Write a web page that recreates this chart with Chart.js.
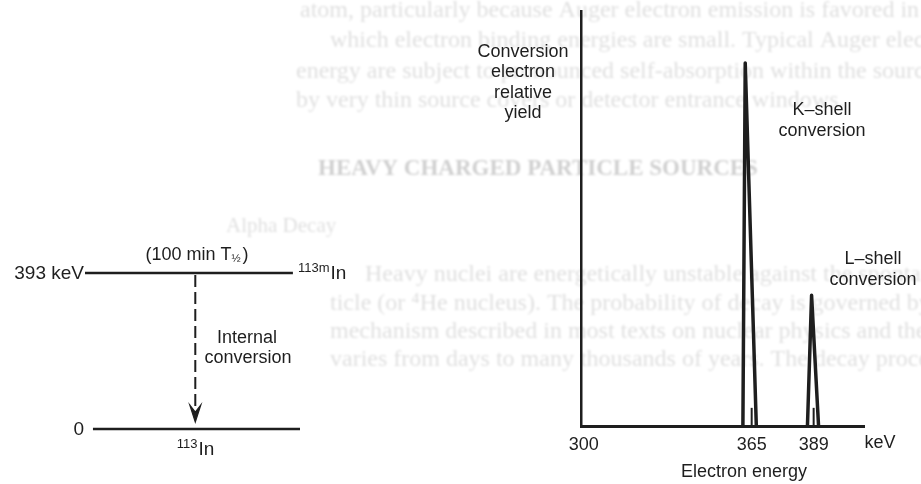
<!DOCTYPE html>
<html>
<head>
<meta charset="utf-8">
<script src="https://cdn.jsdelivr.net/npm/chart.js@4.4.1/dist/chart.umd.min.js"></script>
<style>
  html, body { margin: 0; padding: 0; background: #ffffff; }
  #wrap { position: relative; width: 921px; height: 484px; overflow: hidden; }
  #wrap canvas { position: absolute; left: 0; top: 0; }
</style>
</head>
<body>
<div id="wrap">
  <canvas id="levels" width="921" height="484"></canvas>
  <canvas id="spectrum" width="921" height="484"></canvas>
</div>
<script>
// ---- Conversion-electron spectrum of 113mIn (relative yield vs electron energy) ----
const kPeakEnergy = [361.6, 362.5, 366.8];   // keV, outline of the K-shell line
const kPeakYield  = [0, 100, 0];
const lPeakEnergy = [386.6, 388.2, 390.9];   // keV, outline of the L-shell line
const lPeakYield  = [0, 36, 0];
const lineEnergies  = [365, 389];            // K and L conversion energies, keV
const lineMarkYield = [5, 5];
const energyTicks   = [300, 365, 389];

// ---- Decay scheme ----
const levelEnergies     = [393, 0];          // keV
const levelEnergyLabels = ['393 keV', '0'];
const levelNuclides     = [['113m', 'In'], ['113', 'In']];
const halfLifeText      = '(100 min T';

const ink = '#1e1e1e';
const sans = '"Liberation Sans", Arial, Helvetica, sans-serif';
const serif = '"Liberation Serif", "Times New Roman", serif';

const toPoints = (xs, ys) => xs.map((x, i) => ({ x, y: ys[i] }));

// text set on the page behind the figure, seen faintly through the paper
const pageTextPlugin = {
  id: 'pageText',
  beforeDraw(chart) {
    const ctx = chart.ctx;
    ctx.save();
    ctx.filter = 'blur(0.8px)';
    ctx.textBaseline = 'middle';
    ctx.textAlign = 'left';
    ctx.fillStyle = 'rgba(0,0,0,0.13)';
    ctx.font = '24px ' + serif;
    const body = [
      [300, 11, 'atom, particularly because Auger electron emission is favored in'],
      [330, 41, 'which electron binding energies are small. Typical Auger electron'],
      [296, 72, 'energy are subject to pronounced self-absorption within the source'],
      [296, 101, 'by very thin source covers or detector entrance windows.'],
      [365, 275, 'Heavy nuclei are energetically unstable against the spontaneous'],
      [330, 304, 'ticle (or \u2074He nucleus). The probability of decay is governed by'],
      [330, 332, 'mechanism described in most texts on nuclear physics and the'],
      [330, 360, 'varies from days to many thousands of years. The decay process']
    ];
    body.forEach(([x, y, t]) => ctx.fillText(t, x, y));
    ctx.font = '21px ' + serif;
    ctx.fillText('Alpha Decay', 226, 226);
    ctx.fillStyle = 'rgba(0,0,0,0.19)';
    ctx.font = 'bold 23px ' + serif;
    ctx.fillText('HEAVY CHARGED PARTICLE SOURCES', 318, 169);
    ctx.restore();
  }
};

// labels of the decay scheme and the internal-conversion transition
const schemePlugin = {
  id: 'scheme',
  afterDatasetsDraw(chart) {
    const ctx = chart.ctx;
    const xs = chart.scales.x, ys = chart.scales.y;
    const yTop = ys.getPixelForValue(levelEnergies[0]);
    const yBot = ys.getPixelForValue(levelEnergies[1]);
    ctx.save();
    ctx.fillStyle = ink;
    ctx.strokeStyle = ink;
    ctx.textBaseline = 'middle';

    // energy labels at the left end of each level
    ctx.font = '19px ' + sans;
    ctx.textAlign = 'right';
    levelEnergies.forEach((e, i) => {
      ctx.fillText(levelEnergyLabels[i], 84, ys.getPixelForValue(e) + 1);
    });

    // nuclide labels: mass number raised in front of the symbol
    const drawNuclide = (mass, sym, x, y, align) => {
      ctx.font = '13px ' + sans;
      const wm = ctx.measureText(mass).width;
      ctx.font = '19px ' + sans;
      const ws = ctx.measureText(sym).width;
      const x0 = align === 'center' ? x - (wm + ws) / 2 : x;
      ctx.textAlign = 'left';
      ctx.font = '13px ' + sans;
      ctx.fillText(mass, x0, y - 6);
      ctx.font = '19px ' + sans;
      ctx.fillText(sym, x0 + wm + 1, y);
    };
    drawNuclide(levelNuclides[0][0], levelNuclides[0][1], 298, yTop + 1, 'left');
    drawNuclide(levelNuclides[1][0], levelNuclides[1][1], 195, yBot + 21, 'center');

    // half-life above the isomeric level
    ctx.font = '18px ' + sans;
    const w1 = ctx.measureText(halfLifeText).width;
    ctx.font = '11px ' + sans;
    const w2 = ctx.measureText('\u00bd').width;
    ctx.font = '18px ' + sans;
    const w3 = ctx.measureText(')').width;
    const hx = 197 - (w1 + w2 + w3 + 2) / 2;
    const hy = yTop - 18;
    ctx.textAlign = 'left';
    ctx.fillText(halfLifeText, hx, hy);
    ctx.font = '11px ' + sans;
    ctx.fillText('\u00bd', hx + w1, hy + 4);
    ctx.font = '18px ' + sans;
    ctx.fillText(')', hx + w1 + w2 + 2, hy);

    // dashed transition with arrowhead
    const ax = xs.getPixelForValue(0.513);
    const tipY = yBot - 7;
    ctx.lineWidth = 2;
    ctx.setLineDash([12, 5]);
    ctx.beginPath();
    ctx.moveTo(ax, yTop + 2);
    ctx.lineTo(ax, tipY - 10);
    ctx.stroke();
    ctx.setLineDash([]);
    ctx.beginPath();
    ctx.moveTo(ax, tipY);
    ctx.lineTo(ax - 5.5, tipY - 17);
    ctx.lineTo(ax, tipY - 10);
    ctx.lineTo(ax + 5.5, tipY - 17);
    ctx.closePath();
    ctx.fill();
    ctx.lineWidth = 1.2;
    ctx.stroke();

    ctx.font = '18px ' + sans;
    ctx.textAlign = 'center';
    ctx.fillText('Internal', 247, 338);
    ctx.fillText('conversion', 248, 358);
    ctx.restore();
  }
};

// where each level line starts and stops along the drawing
const levelSpan = [[0, 0.967], [0.037, 1]];

new Chart(document.getElementById('levels'), {
  type: 'scatter',
  data: {
    datasets: levelEnergies.map((e, i) => ({
      data: [{ x: levelSpan[i][0], y: e }, { x: levelSpan[i][1], y: e }],
      showLine: true,
      borderColor: ink,
      borderWidth: 2.5,
      pointRadius: 0,
      clip: false
    }))
  },
  options: {
    responsive: false,
    animation: false,
    devicePixelRatio: 1,
    layout: { padding: { left: 85, right: 621, top: 273, bottom: 55 } },
    plugins: { legend: { display: false }, tooltip: { enabled: false } },
    scales: {
      x: { type: 'linear', display: false, min: 0, max: 1 },
      y: { type: 'linear', display: false, min: 0, max: 393 }
    }
  },
  plugins: [pageTextPlugin, schemePlugin]
});

// axis captions and line annotations of the spectrum
const spectrumLabels = {
  id: 'spectrumLabels',
  afterDraw(chart) {
    const ctx = chart.ctx;
    ctx.save();
    ctx.fillStyle = ink;
    ctx.font = '18px ' + sans;
    ctx.textAlign = 'center';
    ctx.textBaseline = 'middle';
    ['Conversion', 'electron', 'relative', 'yield'].forEach((t, i) => ctx.fillText(t, 523, 52 + i * 20.5));
    ctx.fillText('K\u2013shell', 822, 110);
    ctx.fillText('conversion', 822, 131);
    ctx.fillText('L\u2013shell', 873, 259);
    ctx.fillText('conversion', 873, 280);
    ctx.fillText('keV', 880, 443);
    ctx.fillText('Electron energy', 744, 472);
    ctx.restore();
  }
};

const lineStyle = (width) => ({
  showLine: true,
  borderColor: ink,
  borderWidth: width,
  pointRadius: 0,
  borderJoinStyle: 'round',
  tension: 0,
  clip: false
});

new Chart(document.getElementById('spectrum'), {
  type: 'scatter',
  data: {
    datasets: [
      Object.assign({ data: toPoints(kPeakEnergy, kPeakYield) }, lineStyle(3.5)),
      Object.assign({ data: toPoints(lPeakEnergy, lPeakYield) }, lineStyle(3.5)),
      ...lineEnergies.map((e, i) => Object.assign({ data: [{ x: e, y: 0 }, { x: e, y: lineMarkYield[i] }] }, lineStyle(2)))
    ]
  },
  options: {
    responsive: false,
    animation: false,
    devicePixelRatio: 1,
    layout: { padding: { left: 581, right: 57, top: 11, bottom: 28 } },
    plugins: { legend: { display: false }, tooltip: { enabled: false } },
    scales: {
      x: {
        type: 'linear',
        min: 298.9,
        max: 408.5,
        afterFit(scale) { scale.height = 30; },
        afterBuildTicks(scale) { scale.ticks = energyTicks.map(v => ({ value: v })); },
        grid: { display: false, drawTicks: false },
        border: { display: true, color: ink, width: 3 },
        ticks: { color: ink, font: { family: sans, size: 18 }, padding: 8, maxRotation: 0, autoSkip: false }
      },
      y: {
        type: 'linear',
        min: 0,
        max: 114.3,
        afterFit(scale) { scale.width = 0; },
        grid: { display: false, drawTicks: false },
        border: { display: true, color: ink, width: 2.5 },
        ticks: { display: false }
      }
    }
  },
  plugins: [spectrumLabels]
});
</script>
</body>
</html>
